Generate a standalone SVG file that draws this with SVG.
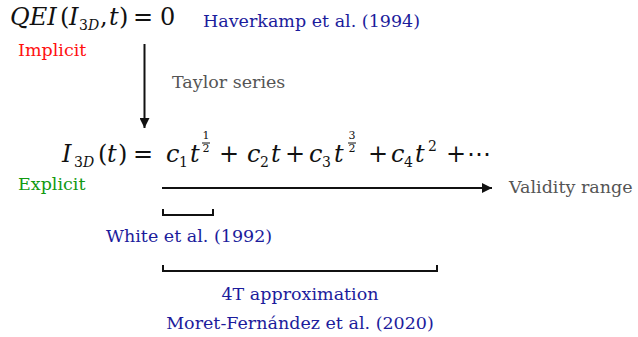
<svg xmlns="http://www.w3.org/2000/svg" width="638" height="337" viewBox="0 0 638 337">
<style>
.m{font-family:"DejaVu Serif","Liberation Serif",serif;font-style:italic;font-size:24px;fill:#111}
.mu{font-family:"DejaVu Serif","Liberation Serif",serif;font-style:normal;font-size:24px;fill:#111}
.sub{font-family:"DejaVu Serif",serif;font-style:normal;font-size:14px;fill:#111}
.fr{font-family:"DejaVu Serif",serif;font-style:normal;font-size:11px;fill:#111;text-anchor:middle}
.lab{font-family:"DejaVu Serif","Liberation Serif",serif;font-size:17.5px}
.blue{fill:#1c1c9c}
.gray{fill:#555555}
.red{fill:#ff1010}
.green{fill:#129a12}
.ln{stroke:#111;stroke-width:2;fill:none}
.fb{stroke:#111;stroke-width:1}
</style>
<defs>
<marker id="ah" viewBox="0 0 10 10" refX="10" refY="5" markerWidth="5" markerHeight="5" orient="auto" markerUnits="strokeWidth">
<path d="M0,0 L10,5 L0,10 z" fill="#111"/>
</marker>
</defs>
<g id="implicit-eq">
<text class="m" x="10" y="25">QEI</text>
<text class="mu" x="60" y="25">(</text>
<text class="m" x="69" y="25">I</text>
<text class="sub" x="79" y="30">3<tspan font-style="italic">D</tspan></text>
<text class="mu" x="100" y="25">,</text>
<text class="m" x="109" y="25">t</text>
<text class="mu" x="119" y="25">)</text>
<text class="mu" x="133" y="25">=</text>
<text class="mu" x="160" y="25">0</text>
<text class="lab red" x="18" y="56">Implicit</text>
</g>
<g id="haverkamp"><text class="lab blue" x="203" y="27">Haverkamp et al. (1994)</text></g>
<g id="explicit-eq">
<text class="m" x="62" y="162">I</text>
<text class="sub" x="74" y="167">3<tspan font-style="italic">D</tspan></text>
<text class="mu" x="98" y="162">(</text>
<text class="m" x="107" y="162">t</text>
<text class="mu" x="118" y="162">)</text>
<text class="mu" x="133" y="162">=</text>
<text class="m" x="166" y="162">c</text><text class="sub" x="179" y="167">1</text><text class="m" x="190" y="162">t</text>
<text class="fr" x="206" y="139">1</text><line class="fb" x1="202" y1="143" x2="210" y2="143"/><text class="fr" x="206" y="152">2</text>
<text class="mu" x="219" y="162">+</text>
<text class="m" x="247" y="162">c</text><text class="sub" x="260" y="167">2</text><text class="m" x="271" y="162">t</text>
<text class="mu" x="285" y="162">+</text>
<text class="m" x="309" y="162">c</text><text class="sub" x="322" y="167">3</text><text class="m" x="334" y="162">t</text>
<text class="fr" x="352" y="139">3</text><line class="fb" x1="348" y1="143" x2="356" y2="143"/><text class="fr" x="352" y="152">2</text>
<text class="mu" x="368" y="162">+</text>
<text class="m" x="391" y="162">c</text><text class="sub" x="404" y="167">4</text><text class="m" x="415" y="162">t</text>
<text class="sub" x="428" y="151">2</text>
<text class="mu" x="446" y="162">+</text>
<text class="mu" x="467" y="162">⋯</text>
<text class="lab green" x="18" y="190">Explicit</text>
</g>
<g id="taylor"><text class="lab gray" x="172" y="88">Taylor series</text></g>
<g id="validity"><text class="lab gray" x="509" y="193">Validity range</text></g>
<g id="white"><text class="lab blue" x="106" y="242">White et al. (1992)</text></g>
<g id="moret">
<text class="lab blue" x="300" y="300" text-anchor="middle">4T approximation</text>
<text class="lab blue" x="300" y="329" text-anchor="middle">Moret-Fernández et al. (2020)</text>
</g>
<g id="connectors">
<line class="ln" x1="144.5" y1="44" x2="144.5" y2="128" marker-end="url(#ah)"/>
<line class="ln" x1="162" y1="188" x2="492" y2="188" marker-end="url(#ah)"/>
<path class="ln" d="M163,209 V215 H213 V209"/>
<path class="ln" d="M163,265 V271 H437 V265"/>
</g>
</svg>
